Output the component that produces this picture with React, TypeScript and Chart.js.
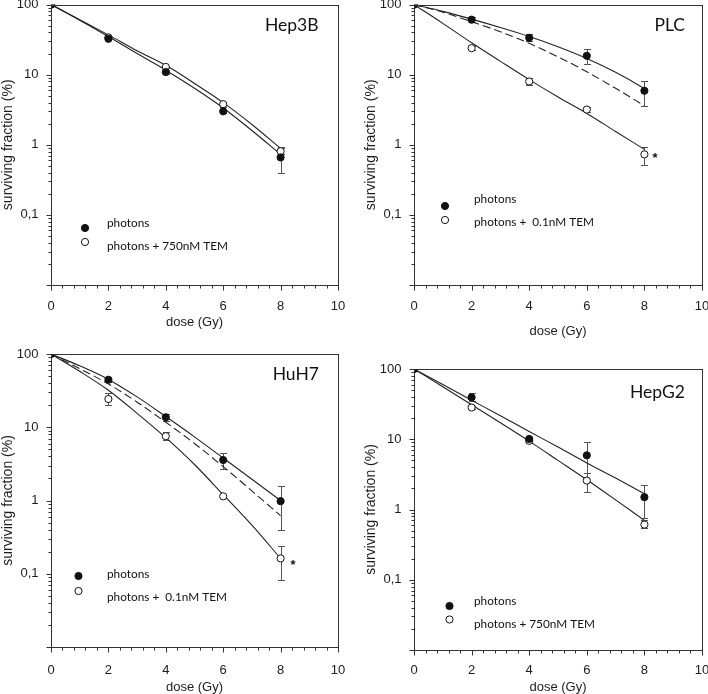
import React, { useEffect, useRef } from 'react';
import { Chart, registerables } from 'chart.js';
Chart.register(...registerables);

// ---------- data ----------
const doses = [0, 2, 4, 6, 8];
const fitDoses = [0, 1, 2, 3, 4, 5, 6, 7, 8];
const xTickValues = [0, 2, 4, 6, 8, 10];
const yTickValues = [0.1, 1, 10, 100];
const yTickLabels = ['0,1', '1', '10', '100'];

// Hep3B
const hep3bPhotons = [100, 32.5, 10.9, 3.0, 0.66];
const hep3bPhotonsLo = [100, 31, 10.2, 2.85, 0.39];
const hep3bPhotonsHi = [100, 34, 11.7, 3.15, 0.9];
const hep3bTem = [100, 34, 12.9, 3.8, 0.81];
const hep3bTemLo = [100, 31.5, 12.3, 3.5, 0.75];
const hep3bTemHi = [100, 36.5, 13.5, 4.1, 0.92];
const hep3bFitPhotons = [100, 60, 35, 20, 11.6, 6.4, 3.35, 1.6, 0.73];
const hep3bFitTem = [100, 61, 37, 22, 13.6, 7.5, 4.0, 1.95, 0.89];

// PLC
const plcPhotons = [100, 61, 33.6, 18.6, 5.9];
const plcPhotonsLo = [100, 57, 30.5, 14, 3.6];
const plcPhotonsHi = [100, 66, 37.5, 23, 8.2];
const plcTem = [100, 23.9, 8.0, 3.18, 0.73];
const plcTemLo = [100, 22.3, 7.2, 2.9, 0.52];
const plcTemHi = [100, 25.5, 8.9, 3.5, 0.94];
const plcFitPhotons = [100, 80, 62, 47, 35, 25, 17, 10.8, 6.4];
const plcFitDashed = [100, 78, 57, 41, 28, 18, 11, 6.4, 3.6];
const plcFitTem = [100, 54, 28.5, 15.5, 8.5, 4.8, 2.8, 1.55, 0.86];

// HuH7
const huh7Photons = [100, 44.5, 13.7, 3.57, 0.98];
const huh7PhotonsLo = [100, 41.5, 12.3, 2.7, 0.39];
const huh7PhotonsHi = [100, 47.5, 15.2, 4.5, 1.56];
const huh7Tem = [100, 24.3, 7.55, 1.14, 0.162];
const huh7TemLo = [100, 20, 6.6, 1.07, 0.083];
const huh7TemHi = [100, 29, 8.6, 1.2, 0.238];
const huh7FitPhotons = [100, 69, 45, 26, 14, 7.4, 3.8, 1.95, 1.0];
const huh7FitDashed = [100, 63, 39, 22, 11.7, 6.0, 2.9, 1.35, 0.62];
const huh7FitTem = [100, 58, 32, 15.5, 7.2, 3.1, 1.2, 0.46, 0.162];

// HepG2
const hepg2Photons = [100, 39.5, 10.1, 5.9, 1.5];
const hepg2PhotonsLo = [100, 35.5, 9.6, 3.35, 0.76];
const hepg2PhotonsHi = [100, 45, 10.6, 9.2, 2.22];
const hepg2Tem = [100, 28.3, 9.5, 2.58, 0.61];
const hepg2TemLo = [100, 26.8, 8.7, 1.8, 0.54];
const hepg2TemHi = [100, 30, 10.4, 3.3, 0.72];
const hepg2FitPhotons = [100, 60, 36, 21.6, 12.9, 7.75, 4.6, 2.8, 1.68];
const hepg2FitTem = [100, 56, 31, 17.2, 9.4, 5.0, 2.65, 1.37, 0.7];

const legendPhotons = 'photons';
const legend750 = 'photons + 750nM TEM';
const legend01 = 'photons +  0.1nM TEM';

// ---------- helpers ----------
const pts = (xs: number[], ys: number[]) => xs.map((x, i) => ({ x, y: ys[i] }));
const INK = '#1c1c1c';
const LINE = '#222';
const FONT = '"Liberation Sans", Arial, sans-serif';

function pointsDs(vals: number[], lo: number[], hi: number[], filled: boolean, star?: number) {
  return {
    type: 'line',
    data: pts(doses, vals),
    showLine: false,
    pointRadius: 3.6,
    pointHoverRadius: 3.6,
    pointBorderWidth: 1,
    pointBackgroundColor: filled ? '#111' : '#fff',
    pointBorderColor: '#111',
    errLo: lo,
    errHi: hi,
    star,
  } as any;
}
function fitDs(vals: number[], dashed = false) {
  return {
    type: 'line',
    data: pts(fitDoses, vals),
    borderColor: LINE,
    borderWidth: 1.1,
    borderDash: dashed ? [8, 4] : [],
    pointRadius: 0,
    cubicInterpolationMode: 'monotone',
    fill: false,
  } as any;
}

const decorPlugin = {
  id: 'panelDecor',
  beforeDatasetsDraw(chart: any) {
    const { ctx } = chart;
    const xS = chart.scales.x, yS = chart.scales.y;
    ctx.save();
    ctx.strokeStyle = '#555';
    ctx.lineWidth = 1;
    chart.data.datasets.forEach((ds: any) => {
      if (!ds.errLo) return;
      ds.data.forEach((p: any, i: number) => {
        const lo = ds.errLo[i], hi = ds.errHi[i];
        if (lo === hi) return;
        const x = Math.round(xS.getPixelForValue(p.x)) + 0.5;
        const y1 = Math.round(yS.getPixelForValue(lo)) + 0.5;
        const y2 = Math.round(yS.getPixelForValue(hi)) + 0.5;
        ctx.beginPath();
        ctx.moveTo(x, y1); ctx.lineTo(x, y2);
        ctx.moveTo(x - 3.5, y1); ctx.lineTo(x + 3.5, y1);
        ctx.moveTo(x - 3.5, y2); ctx.lineTo(x + 3.5, y2);
        ctx.stroke();
      });
    });
    ctx.restore();
  },
  afterDraw(chart: any, _a: any, o: any) {
    const { ctx, chartArea: a } = chart;
    const xS = chart.scales.x, yS = chart.scales.y;
    ctx.save();
    ctx.strokeStyle = '#333';
    ctx.lineWidth = 1;
    const L = Math.round(a.left) + 0.5, T = Math.round(a.top) + 0.5;
    const R = Math.round(a.right) + 0.5, B = Math.round(a.bottom) + 0.5;
    ctx.strokeRect(L, T, R - L, B - T);
    ctx.beginPath();
    for (let e = -2; e <= 2; e++) {
      for (let m = 1; m <= 9; m++) {
        const v = m * Math.pow(10, e);
        if (v > 100.0001) break;
        const y = Math.round(yS.getPixelForValue(v)) + 0.5;
        const len = m === 1 ? 5 : 3;
        ctx.moveTo(L, y); ctx.lineTo(L - len, y);
      }
    }
    for (let i = 0; i <= 25; i++) {
      const x = Math.round(xS.getPixelForValue(i * 0.4)) + 0.5;
      const len = i % 5 === 0 ? 5 : 3;
      ctx.moveTo(x, B); ctx.lineTo(x, B + len);
    }
    ctx.stroke();

    // panel title
    ctx.fillStyle = '#111';
    ctx.font = '17.5px Lato';
    ctx.textAlign = 'right';
    ctx.textBaseline = 'middle';
    ctx.fillText(o.title, a.right - o.titleDx, a.top + o.titleDy);

    // legend
    ctx.font = '11.8px Lato';
    ctx.textAlign = 'left';
    o.legend.forEach((row: any) => {
      ctx.beginPath();
      ctx.arc(a.left + o.legMarkerDx, a.bottom + row.my, 3.6, 0, Math.PI * 2);
      ctx.fillStyle = row.filled ? '#111' : '#fff';
      ctx.fill();
      ctx.strokeStyle = '#111';
      ctx.stroke();
      ctx.fillStyle = '#111';
      ctx.fillText(row.text, a.left + o.legTextDx, a.bottom + row.ty);
    });

    // significance stars
    ctx.font = 'bold 13px "Liberation Sans"';
    chart.data.datasets.forEach((ds: any) => {
      if (ds.star === undefined) return;
      const p = ds.data[ds.star];
      const x = xS.getPixelForValue(p.x), y = yS.getPixelForValue(p.y);
      ctx.fillText('*', x + o.starDx, y + o.starDy);
    });
    ctx.restore();
  },
};

type PanelCfg = {
  cx: number; cy: number; cw: number; ch: number;
  L: number; R: number; T: number; B: number;
  xLabelY: number; xTitleY: number;
  datasets: any[];
  deco: any;
};

const panels: PanelCfg[] = [
  {
    cx: 0, cy: 0, cw: 354, ch: 347, L: 51, R: 338, T: 4, B: 285, xLabelY: 298, xTitleY: 322,
    datasets: [
      pointsDs(hep3bPhotons, hep3bPhotonsLo, hep3bPhotonsHi, true),
      pointsDs(hep3bTem, hep3bTemLo, hep3bTemHi, false),
      fitDs(hep3bFitPhotons), fitDs(hep3bFitTem),
    ],
    deco: {
      title: 'Hep3B', titleDx: 19.5, titleDy: 21,
      legMarkerDx: 34, legTextDx: 56, starDx: 10, starDy: 2,
      legend: [
        { filled: true, my: -57, ty: -62, text: legendPhotons },
        { filled: false, my: -43, ty: -39, text: legend750 },
      ],
    },
  },
  {
    cx: 354, cy: 0, cw: 354, ch: 347, L: 414, R: 702, T: 4, B: 285, xLabelY: 298, xTitleY: 331,
    datasets: [
      pointsDs(plcPhotons, plcPhotonsLo, plcPhotonsHi, true),
      pointsDs(plcTem, plcTemLo, plcTemHi, false, 4),
      fitDs(plcFitPhotons), fitDs(plcFitDashed, true), fitDs(plcFitTem),
    ],
    deco: {
      title: 'PLC', titleDx: 17, titleDy: 21,
      legMarkerDx: 31, legTextDx: 60, starDx: 8, starDy: 4,
      legend: [
        { filled: true, my: -79, ty: -86, text: legendPhotons },
        { filled: false, my: -65, ty: -63, text: legend01 },
      ],
    },
  },
  {
    cx: 0, cy: 347, cw: 354, ch: 347, L: 51, R: 338, T: 354, B: 647, xLabelY: 662, xTitleY: 687,
    datasets: [
      pointsDs(huh7Photons, huh7PhotonsLo, huh7PhotonsHi, true),
      pointsDs(huh7Tem, huh7TemLo, huh7TemHi, false, 4),
      fitDs(huh7FitPhotons), fitDs(huh7FitDashed, true), fitDs(huh7FitTem),
    ],
    deco: {
      title: 'HuH7', titleDx: 19, titleDy: 20.5,
      legMarkerDx: 27.5, legTextDx: 56, starDx: 10, starDy: 7,
      legend: [
        { filled: true, my: -71, ty: -72.5, text: legendPhotons },
        { filled: false, my: -56, ty: -50, text: legend01 },
      ],
    },
  },
  {
    cx: 354, cy: 347, cw: 354, ch: 347, L: 414, R: 702, T: 369, B: 650, xLabelY: 662, xTitleY: 687,
    datasets: [
      pointsDs(hepg2Photons, hepg2PhotonsLo, hepg2PhotonsHi, true),
      pointsDs(hepg2Tem, hepg2TemLo, hepg2TemHi, false),
      fitDs(hepg2FitPhotons), fitDs(hepg2FitTem),
    ],
    deco: {
      title: 'HepG2', titleDx: 17, titleDy: 23,
      legMarkerDx: 35.5, legTextDx: 60, starDx: 10, starDy: 2,
      legend: [
        { filled: true, my: -44, ty: -49, text: legendPhotons },
        { filled: false, my: -30.5, ty: -25.5, text: legend750 },
      ],
    },
  },
];

const Y_AXIS_W = 49.5;
const X_TITLE_SIZE = 13;
const Y_TITLE_SIZE = 14;
const TICK_SIZE = 13;

function Panel({ cfg }: { cfg: PanelCfg }) {
  const ref = useRef<HTMLCanvasElement>(null);
  useEffect(() => {
    const hx = cfg.xTitleY - cfg.B + X_TITLE_SIZE / 2;
    const xpad = cfg.xLabelY - cfg.B - TICK_SIZE / 2;
    const chart = new Chart(ref.current as HTMLCanvasElement, {
      type: 'line',
      data: { datasets: cfg.datasets },
      plugins: [decorPlugin],
      options: {
        animation: false,
        responsive: false,
        devicePixelRatio: 1,
        events: [],
        layout: {
          padding: {
            left: cfg.L - Y_AXIS_W - cfg.cx,
            right: cfg.cx + cfg.cw - cfg.R,
            top: cfg.T - cfg.cy,
            bottom: cfg.cy + cfg.ch - cfg.B - hx,
          },
        },
        plugins: {
          legend: { display: false },
          tooltip: { enabled: false },
          panelDecor: cfg.deco,
        } as any,
        scales: {
          x: {
            type: 'linear',
            min: 0,
            max: 10,
            grid: { display: false },
            border: { display: false },
            afterBuildTicks: (s: any) => { s.ticks = xTickValues.map((v) => ({ value: v })); },
            afterFit: (s: any) => { s.height = hx; s.paddingLeft = 0; s.paddingRight = 0; },
            ticks: {
              padding: xpad,
              autoSkip: false,
              maxRotation: 0,
              color: INK,
              font: { family: FONT, size: TICK_SIZE, lineHeight: 1 },
              callback: (v: any) => String(v),
            },
            title: {
              display: true,
              text: 'dose (Gy)',
              color: INK,
              padding: 0,
              font: { family: FONT, size: X_TITLE_SIZE, lineHeight: 1 },
            },
          },
          y: {
            type: 'logarithmic',
            min: 0.01,
            max: 100,
            grid: { display: false },
            border: { display: false },
            afterBuildTicks: (s: any) => { s.ticks = yTickValues.map((v) => ({ value: v })); },
            afterFit: (s: any) => { s.width = Y_AXIS_W; s.paddingTop = 0; s.paddingBottom = 0; },
            ticks: {
              padding: 4.5,
              color: INK,
              font: { family: FONT, size: TICK_SIZE, lineHeight: 1 },
              callback: (v: any) => {
                const i = yTickValues.findIndex((t) => Math.abs(t - v) < 1e-9);
                return i >= 0 ? yTickLabels[i] : '';
              },
            },
            title: {
              display: true,
              text: 'surviving fraction (%)',
              color: INK,
              padding: 0,
              font: { family: FONT, size: Y_TITLE_SIZE, lineHeight: 1 },
            },
          },
        },
      } as any,
    });
    return () => chart.destroy();
  }, []);
  return (
    <canvas
      ref={ref}
      width={cfg.cw}
      height={cfg.ch}
      style={{ position: 'absolute', left: cfg.cx, top: cfg.cy, width: cfg.cw, height: cfg.ch }}
    />
  );
}

export default function App() {
  return (
    <div style={{ position: 'absolute', left: 0, top: 0, width: 708, height: 694, background: '#fff', overflow: 'hidden' }}>
      {panels.map((p, i) => (
        <Panel key={i} cfg={p} />
      ))}
    </div>
  );
}
